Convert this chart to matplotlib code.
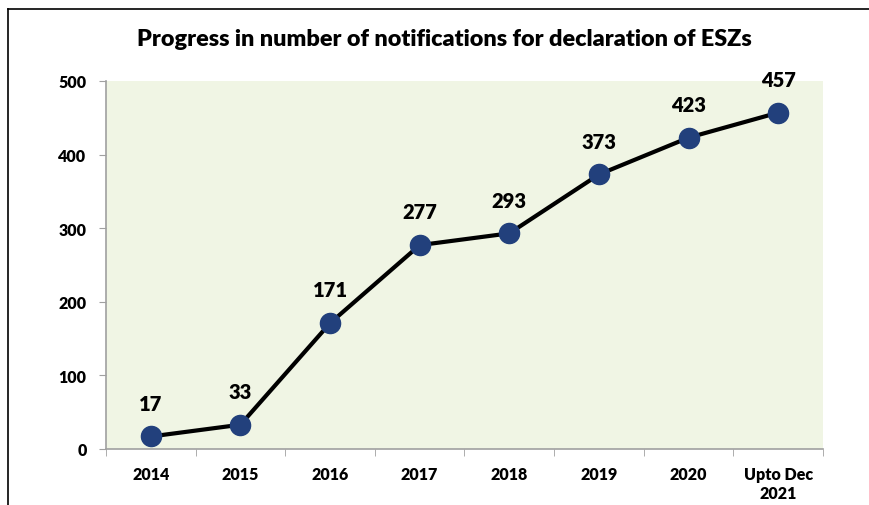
import numpy as np
import matplotlib.pyplot as plt
from matplotlib.lines import Line2D
from matplotlib.ticker import FixedLocator, NullFormatter

# ESZ notifications, cumulative count by year
years = ['2014', '2015', '2016', '2017', '2018', '2019', '2020', 'Upto Dec\n2021']
notifications = [17, 33, 171, 277, 293, 373, 423, 457]

plt.rcParams['font.family'] = ['Lato', 'DejaVu Sans']
plt.rcParams['font.weight'] = 'heavy'

fig = plt.figure(figsize=(8.7, 5.06), dpi=100)
ax = fig.add_axes([106/870, 1 - 450/506, 717/870, 368/506])
ax.set_facecolor('#F0F5E4')

x = np.arange(len(years))
ax.plot(x, notifications, color='black', lw=3, marker='o', ms=14.5,
        mfc='#22407C', mec='#22407C', zorder=3, clip_on=False)
for xi, v in zip(x, notifications):
    ax.annotate(str(v), (xi, v), xytext=(0, 24), textcoords='offset points',
                ha='center', va='center', fontsize=14.5, fontweight='heavy')

ax.set_xlim(-0.5, len(years) - 0.5)
ax.set_ylim(0, 500)
ax.set_yticks(range(0, 501, 100))
ax.set_xticks(x)
ax.set_xticklabels(years, fontsize=11.5, fontweight='heavy', linespacing=1.25)
ax.tick_params(axis='x', length=0, pad=12)
ax.xaxis.set_minor_locator(FixedLocator(np.arange(-0.5, len(years), 1)))
ax.xaxis.set_minor_formatter(NullFormatter())
ax.tick_params(axis='x', which='minor', length=5, color='#A0A0A0')
ax.tick_params(axis='y', length=5, color='#A0A0A0', labelsize=11.5, pad=9)
for lbl in ax.get_yticklabels():
    lbl.set_fontweight('heavy')

for side in ['top', 'right']:
    ax.spines[side].set_visible(False)
for side in ['left', 'bottom']:
    ax.spines[side].set_color('#A0A0A0')
    ax.spines[side].set_linewidth(1.2)

fig.text(444/870, 1 - 40/506, 'Progress in number of notifications for declaration of ESZs',
         ha='center', va='center', fontsize=16.8, fontweight='heavy')

# outer frame: top and left edges only
fig.add_artist(Line2D([8/870, 1], [1 - 10/506, 1 - 10/506], color='black', lw=1.2,
                      transform=fig.transFigure))
fig.add_artist(Line2D([8/870, 8/870], [0, 1 - 10/506], color='black', lw=1.2,
                      transform=fig.transFigure))

fig.savefig('out.png', dpi=100)
